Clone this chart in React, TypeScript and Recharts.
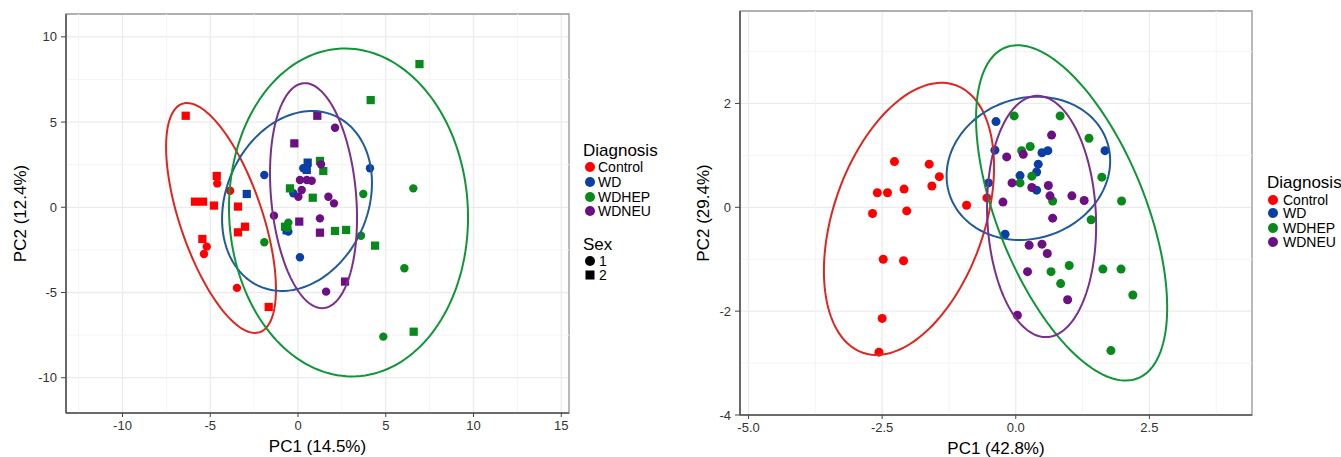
import React from 'react';
import { ScatterChart, Scatter, XAxis, YAxis, CartesianGrid, ReferenceLine, ReferenceArea } from 'recharts';

const FONT = '"Liberation Sans", Arial, Helvetica, sans-serif';

const groups = ['Control', 'WD', 'WDHEP', 'WDNEU'];
const pointColors = ['#ff0000', '#0a3fa6', '#078a1a', '#6b0f82'];
const ellipseColors = ['#e0251f', '#1f5a9b', '#0e9636', '#7b2e8c'];

// ---------- Left panel (PC1 14.5%, PC2 12.4%) : [x, y, sex]
const leftControl = [
  [-6.4, 5.37, 2], [-4.63, 1.84, 2], [-4.6, 1.4, 1], [-3.87, 0.97, 1], [-5.87, 0.33, 2],
  [-5.41, 0.33, 2], [-4.79, 0.1, 2], [-3.42, 0.04, 2], [-3.02, -1.14, 2], [-3.42, -1.47, 2],
  [-5.45, -1.86, 2], [-5.2, -2.31, 1], [-5.36, -2.74, 1], [-3.48, -4.73, 1], [-1.67, -5.85, 2],
];
const leftWD = [
  [-2.92, 0.78, 2], [-1.92, 1.89, 1], [0.55, 2.62, 2], [0.3, 2.29, 1], [0.5, 2.19, 2],
  [4.1, 2.29, 1], [0.11, -2.93, 1], [-0.55, -1.43, 1], [-0.27, 0.82, 1], [-0.65, -1.35, 2],
];
const leftWDHEP = [
  [6.92, 8.4, 2], [4.14, 6.29, 2], [1.25, 2.72, 2], [1.44, 2.13, 2], [3.72, 0.78, 1],
  [6.57, 1.11, 1], [0.84, 0.56, 2], [-0.46, 1.11, 2], [2.11, -1.39, 2], [2.74, -1.33, 2],
  [3.59, -1.67, 1], [4.39, -2.25, 2], [6.06, -3.58, 1], [4.86, -7.59, 1], [6.59, -7.3, 2],
  [-0.74, -1.14, 2], [-0.55, -0.9, 1], [-0.6, -1.2, 1], [-1.92, -2.05, 1],
];
const leftWDNEU = [
  [1.1, 5.37, 2], [2.11, 4.67, 1], [-0.21, 3.75, 2], [1.31, 2.52, 1], [0.11, 1.6, 1],
  [0.5, 1.6, 1], [0.78, 1.56, 1], [0.21, 1.01, 1], [0.02, 0.62, 1], [1.73, 0.62, 1],
  [2.05, 0.23, 1], [-1.37, -0.49, 1], [0.07, -0.84, 2], [1.25, -0.65, 1], [1.25, -1.49, 2],
  [2.68, -4.36, 2], [1.6, -4.95, 1],
];
// ellipse: [cx, cy, ux, uy, vx, vy] (centre and two conjugate semi-axis vectors, data units)
const leftEllipses = [
  [-4.387, -0.628, -2.203, 6.7, 2.224, 0.775],
  [-0.057, 0.37, 2.134, 5.006, 3.699, -1.671],
  [2.877, -0.305, -0.424, 9.615, 6.797, 0.318],
  [0.883, 0.68, -0.572, 6.596, 2.412, 0.2216],
];
const leftXDomain = [-13.22, 15.44];
const leftYDomain = [-12.07, 11.34];
const leftXTicks = [-10, -5, 0, 5, 10, 15];
const leftYTicks = [-10, -5, 0, 5, 10];
const leftXMinor = [-12.5, -7.5, -2.5, 2.5, 7.5, 12.5];
const leftYMinor = [-7.5, -2.5, 2.5, 7.5];

// ---------- Right panel (PC1 42.8%, PC2 29.4%) : [x, y]
const rightControl = [
  [-2.27, 0.88], [-1.62, 0.83], [-1.43, 0.59], [-1.57, 0.41], [-2.59, 0.28], [-2.4, 0.28],
  [-2.09, 0.35], [-2.68, -0.12], [-2.04, -0.07], [-0.92, 0.04], [-0.54, 0.18], [-2.48, -1.0],
  [-2.1, -1.03], [-2.5, -2.14], [-2.56, -2.79],
];
const rightWD = [
  [-0.37, 1.65], [-0.39, 1.1], [0.49, 1.05], [0.6, 1.09], [1.67, 1.09], [0.42, 0.83],
  [0.39, 0.68], [0.08, 0.61], [0.39, 0.33], [-0.51, 0.47], [-0.2, -0.52],
];
const rightWDHEP = [
  [-0.03, 1.76], [0.83, 1.76], [1.37, 1.33], [0.27, 1.17], [0.11, 1.09], [0.3, 0.6],
  [0.08, 0.47], [1.61, 0.58], [0.69, 0.12], [1.98, 0.12], [1.41, -0.24], [0.66, -1.24],
  [1.0, -1.12], [0.84, -1.47], [1.63, -1.19], [1.97, -1.19], [2.19, -1.69], [1.78, -2.76],
];
const rightWDNEU = [
  [0.67, 1.39], [-0.17, 0.97], [0.14, 1.02], [-0.07, 0.47], [0.3, 0.38], [0.61, 0.42],
  [0.64, 0.22], [1.05, 0.22], [1.28, 0.13], [-0.24, 0.1], [0.69, -0.21], [0.25, -0.73],
  [0.49, -0.71], [0.59, -0.89], [0.22, -1.24], [0.97, -1.78], [0.03, -2.08],
];
const rightEllipses = [
  [-1.998, -0.223, 0.864, 2.577, 1.337, -0.473],
  [0.236, 0.75, 1.468, 0.525, 0.4324, -1.275],
  [1.045, -0.108, -1.2375, 3.185, 1.2906, 0.5288],
  [0.483, -0.177, -0.0987, 2.3226, 1.0158, 0.0455],
];
const rightXDomain = [-5.16, 4.42];
const rightYDomain = [-4.0, 3.78];
const rightXTicks = [-5, -2.5, 0, 2.5];
const rightYTicks = [-4, -2, 0, 2];
const rightXMinor = [-3.75, -1.25, 1.25, 3.75];
const rightYMinor = [-3, -1, 1, 3];

function ellipseOutline(p: number[], n = 160) {
  const [cx, cy, ux, uy, vx, vy] = p;
  const pts: { x: number; y: number }[] = [];
  for (let i = 0; i <= n; i++) {
    const t = (2 * Math.PI * i) / n;
    pts.push({ x: cx + ux * Math.cos(t) + vx * Math.sin(t), y: cy + uy * Math.cos(t) + vy * Math.sin(t) });
  }
  return pts;
}

const toObjs = (arr: number[][]) => arr.map((d) => ({ x: d[0], y: d[1], sex: d[2] ?? 1 }));

const makeShape = (color: string, r: number) => (props: any) => {
  const { cx, cy, payload } = props;
  if (cx == null || cy == null) return <g />;
  if (payload && payload.sex === 2) {
    const s = r * 0.98;
    return <rect x={cx - s} y={cy - s} width={2 * s} height={2 * s} fill={color} />;
  }
  return <circle cx={cx} cy={cy} r={r} fill={color} />;
};
const emptyShape = () => <g />;

type PanelProps = {
  width: number;
  height: number;
  margin: any;
  yAxisWidth: number;
  xAxisHeight: number;
  xDomain: number[];
  yDomain: number[];
  xTicks: number[];
  yTicks: number[];
  xMinor: number[];
  yMinor: number[];
  xFmt: (v: number) => string;
  yFmt: (v: number) => string;
  series: number[][][];
  ellipses: number[][];
  xLabel: string;
  yLabel: string;
  xLabelOffset: number;
  yLabelOffset: number;
  r: number;
};

function Panel(p: PanelProps) {
  const tickStyle = { fill: '#333', fontSize: 13, fontFamily: FONT };
  return (
    <ScatterChart width={p.width} height={p.height} margin={p.margin}>
      <CartesianGrid stroke="#ebebeb" strokeWidth={1.3} />
      {p.xMinor.map((v) => (
        <ReferenceLine key={'mx' + v} x={v} stroke="#f4f4f4" strokeWidth={1} />
      ))}
      {p.yMinor.map((v) => (
        <ReferenceLine key={'my' + v} y={v} stroke="#f4f4f4" strokeWidth={1} />
      ))}
      <ReferenceArea
        x1={p.xDomain[0]}
        x2={p.xDomain[1]}
        y1={p.yDomain[0]}
        y2={p.yDomain[1]}
        fill="none"
        fillOpacity={0}
        stroke="#9a9a9a"
        strokeWidth={1.3}
      />
      <XAxis
        type="number"
        dataKey="x"
        domain={p.xDomain}
        ticks={p.xTicks}
        interval={0}
        allowDataOverflow
        height={p.xAxisHeight}
        tick={tickStyle}
        tickFormatter={p.xFmt}
        tickSize={4}
        tickMargin={4}
        tickLine={{ stroke: '#444' }}
        axisLine={{ stroke: '#555', strokeWidth: 1.6 }}
        label={{ value: p.xLabel, position: 'insideBottom', offset: p.xLabelOffset, fill: '#000', fontSize: 17, fontFamily: FONT }}
      />
      <YAxis
        type="number"
        dataKey="y"
        domain={p.yDomain}
        ticks={p.yTicks}
        interval={0}
        allowDataOverflow
        width={p.yAxisWidth}
        tick={tickStyle}
        tickFormatter={p.yFmt}
        tickSize={5}
        tickMargin={4}
        tickLine={{ stroke: '#444' }}
        axisLine={{ stroke: '#555', strokeWidth: 1.6 }}
        label={{
          value: p.yLabel,
          angle: -90,
          position: 'insideLeft',
          offset: p.yLabelOffset,
          fill: '#000',
          fontSize: 17,
          fontFamily: FONT,
          style: { textAnchor: 'middle' },
        }}
      />
      {p.series.map((s, i) => (
        <Scatter
          key={'s' + i}
          name={groups[i]}
          data={toObjs(s)}
          fill={pointColors[i]}
          shape={makeShape(pointColors[i], p.r)}
          isAnimationActive={false}
        />
      ))}
      {p.ellipses.map((e, i) => (
        <Scatter
          key={'e' + i}
          data={ellipseOutline(e)}
          line={{ stroke: ellipseColors[i], strokeWidth: 2 }}
          lineType="joint"
          shape={emptyShape}
          isAnimationActive={false}
        />
      ))}
    </ScatterChart>
  );
}

const legendTitle = (text: string, left: number, cy: number) => (
  <div
    style={{
      position: 'absolute',
      left,
      top: cy - 10,
      height: 20,
      lineHeight: '20px',
      fontSize: 17,
      fontFamily: FONT,
      color: '#000',
      whiteSpace: 'nowrap',
    }}
  >
    {text}
  </div>
);

const legendItem = (
  text: string,
  color: string,
  shape: 'circle' | 'square',
  symLeft: number,
  textLeft: number,
  cy: number,
  size: number
) => (
  <div key={text + cy} style={{ position: 'absolute', left: symLeft, top: cy - 8, height: 16, width: 120 }}>
    <svg width={size} height={size} style={{ position: 'absolute', left: 0, top: 8 - size / 2 }}>
      {shape === 'circle' ? (
        <circle cx={size / 2} cy={size / 2} r={size / 2} fill={color} />
      ) : (
        <rect x={0.5} y={0.5} width={size - 1} height={size - 1} fill={color} />
      )}
    </svg>
    <div
      style={{
        position: 'absolute',
        left: textLeft - symLeft,
        top: 0,
        lineHeight: '16px',
        fontSize: 14,
        fontFamily: FONT,
        color: '#000',
        whiteSpace: 'nowrap',
      }}
    >
      {text}
    </div>
  </div>
);

const leftLegendRows = [167, 181.5, 196.5, 211];
const sexLabels = ['1', '2'];
const sexRows = [260.5, 275];
const rightLegendRows = [199.5, 213, 227.5, 242];

export default function App() {
  return (
    <div style={{ position: 'absolute', left: 0, top: 0, width: 1341, height: 457, background: '#fff', overflow: 'hidden' }}>
      <div style={{ position: 'absolute', left: 0, top: 0 }}>
        <Panel
          width={580}
          height={457}
          margin={{ top: 14, right: 11, left: 0, bottom: 0 }}
          yAxisWidth={66}
          xAxisHeight={44}
          xDomain={leftXDomain}
          yDomain={leftYDomain}
          xTicks={leftXTicks}
          yTicks={leftYTicks}
          xMinor={leftXMinor}
          yMinor={leftYMinor}
          xFmt={(v) => String(v)}
          yFmt={(v) => String(v)}
          series={[leftControl, leftWD, leftWDHEP, leftWDNEU]}
          ellipses={leftEllipses}
          xLabel="PC1 (14.5%)"
          yLabel="PC2 (12.4%)"
          xLabelOffset={5}
          yLabelOffset={20}
          r={4.2}
        />
      </div>
      <div style={{ position: 'absolute', left: 660, top: 0 }}>
        <Panel
          width={681}
          height={457}
          margin={{ top: 11, right: 89, left: 0, bottom: 0 }}
          yAxisWidth={80}
          xAxisHeight={42}
          xDomain={rightXDomain}
          yDomain={rightYDomain}
          xTicks={rightXTicks}
          yTicks={rightYTicks}
          xMinor={rightXMinor}
          yMinor={rightYMinor}
          xFmt={(v) => v.toFixed(1)}
          yFmt={(v) => String(v)}
          series={[rightControl, rightWD, rightWDHEP, rightWDNEU]}
          ellipses={rightEllipses}
          xLabel="PC1 (42.8%)"
          yLabel="PC2 (29.4%)"
          xLabelOffset={3}
          yLabelOffset={43}
          r={4.5}
        />
      </div>
      {legendTitle('Diagnosis', 583, 151)}
      {groups.map((g, i) => legendItem(g, pointColors[i], 'circle', 585, 598, leftLegendRows[i], 10))}
      {legendTitle('Sex', 583, 245)}
      {sexLabels.map((s, i) => legendItem(s, '#000', i === 0 ? 'circle' : 'square', 585, 599, sexRows[i], 10))}
      {legendTitle('Diagnosis', 1267, 183)}
      {groups.map((g, i) => legendItem(g, pointColors[i], 'circle', 1268, 1283, rightLegendRows[i], 10))}
    </div>
  );
}
